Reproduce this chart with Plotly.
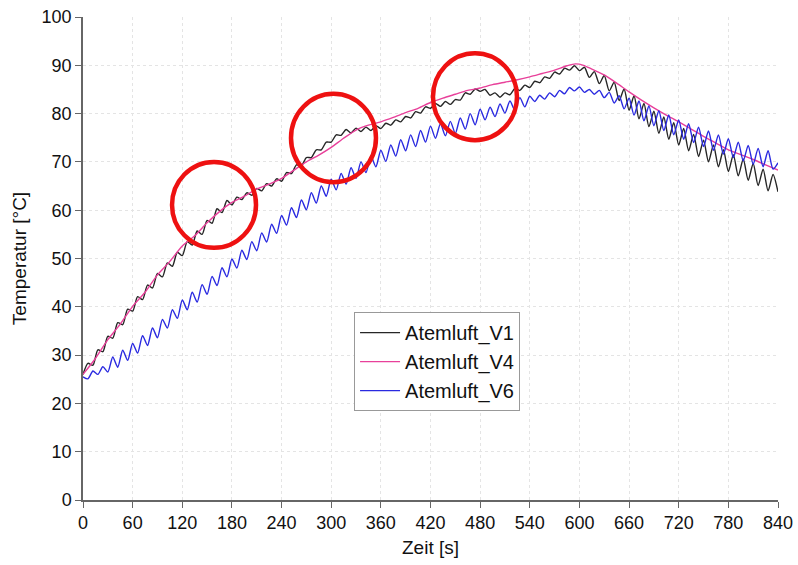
import plotly.graph_objects as go

# ---- data ----
t_v1 = list(range(0, 841, 6))
atemluft_v1 = [
    26.0, 28.3, 27.9, 31.1, 30.7, 33.9, 33.5, 36.7, 36.3, 39.5,
    39.1, 42.1, 41.5, 44.5, 43.9, 46.9, 46.2, 49.1, 48.4, 51.3,
    50.6, 53.5, 52.8, 55.7, 55.0, 57.9, 57.3, 60.3, 59.5, 62.0,
    61.1, 62.7, 62.2, 63.6, 63.1, 64.5, 64.0, 65.5, 65.0, 66.5,
    66.0, 67.8, 67.6, 69.4, 69.2, 70.9, 70.9, 72.5, 72.5, 74.1,
    74.1, 75.6, 75.5, 76.7, 76.0, 77.0, 76.3, 77.2, 76.5, 77.5,
    76.9, 78.0, 77.6, 78.7, 78.3, 79.4, 79.1, 80.4, 80.1, 81.4,
    81.1, 82.1, 81.5, 82.5, 81.9, 82.9, 82.8, 84.3, 84.0, 85.1,
    84.6, 85.0, 83.8, 84.3, 83.4, 84.3, 83.9, 85.2, 84.8, 85.9,
    85.4, 86.7, 86.4, 87.6, 87.3, 88.6, 88.2, 89.4, 89.0, 89.9,
    88.9, 89.6, 87.5, 88.7, 86.2, 87.9, 84.7, 86.5, 82.7, 85.1,
    80.7, 83.7, 78.9, 82.1, 77.3, 80.5, 75.9, 79.3, 74.7, 78.1,
    73.5, 76.9, 72.3, 75.7, 71.1, 74.5, 70.0, 73.5, 69.0, 72.5,
    68.0, 71.5, 67.1, 70.6, 66.2, 69.7, 65.1, 68.5, 64.0, 67.4,
    63.8,
]

t_v4 = [0, 15, 30, 45, 60, 75, 90, 105, 120, 135, 150, 165, 180, 195, 210,
        225, 240, 255, 270, 285, 300, 315, 330, 345, 360, 375, 390, 405,
        420, 435, 450, 465, 480, 495, 510, 525, 540, 555, 570, 585, 595,
        605, 615, 630, 645, 660, 675, 690, 705, 720, 735, 750, 765, 780,
        795, 810, 825, 840]
atemluft_v4 = [26.0, 29.3, 33.2, 36.4, 40.1, 43.0, 46.6, 49.4, 52.6, 54.7,
               57.4, 59.7, 61.6, 62.9, 64.4, 65.4, 66.6, 68.3, 70.0, 71.4,
               73.0, 74.9, 76.6, 77.6, 78.3, 79.2, 80.2, 81.1, 82.3, 83.2,
               84.0, 84.8, 85.3, 86.0, 86.5, 87.0, 87.6, 88.3, 89.0, 89.9,
               90.3, 90.0, 89.2, 88.0, 86.3, 84.5, 82.8, 81.2, 79.7, 78.3,
               76.8, 75.3, 73.9, 72.5, 71.5, 70.5, 69.4, 68.3]

t_v6 = list(range(0, 841, 6))
atemluft_v6 = [
    25.5, 25.1, 26.7, 26.0, 27.6, 26.5, 29.6, 27.5, 31.0, 28.9,
    32.4, 30.4, 34.0, 32.0, 35.6, 33.6, 37.4, 35.6, 39.4, 37.6,
    41.4, 39.4, 43.0, 41.0, 44.6, 42.6, 46.3, 44.4, 48.1, 46.2,
    49.9, 48.0, 51.7, 49.8, 53.5, 51.6, 55.3, 53.4, 57.1, 55.2,
    58.9, 56.9, 60.5, 58.5, 62.1, 60.1, 63.6, 61.5, 65.0, 62.9,
    66.4, 64.2, 67.6, 65.4, 68.8, 66.6, 70.0, 67.8, 71.2, 69.0,
    72.4, 70.1, 73.5, 71.2, 74.6, 72.3, 75.6, 73.2, 76.5, 74.1,
    77.4, 74.9, 77.9, 75.4, 78.4, 75.9, 79.1, 76.8, 80.0, 77.7,
    80.9, 78.7, 81.3, 79.4, 82.0, 80.1, 82.6, 80.7, 83.3, 81.4,
    83.6, 82.5, 83.8, 83.0, 84.3, 83.5, 84.8, 84.1, 85.4, 84.7,
    85.5, 84.4, 85.0, 84.0, 84.8, 83.3, 84.4, 82.2, 83.7, 81.0,
    83.2, 79.7, 82.6, 78.5, 81.6, 77.5, 80.6, 76.5, 79.7, 75.6,
    78.7, 74.7, 77.9, 74.0, 77.2, 73.2, 76.4, 72.4, 75.6, 71.6,
    74.8, 70.9, 74.1, 70.2, 73.4, 69.5, 72.8, 69.0, 72.3, 68.5,
    69.8,
]

x_ticks = list(range(0, 841, 60))
y_ticks = list(range(0, 101, 10))

FONT = "Liberation Sans, Arial, sans-serif"

fig = go.Figure()
fig.add_trace(go.Scatter(x=t_v1, y=atemluft_v1, mode="lines", name="Atemluft_V1",
                         line=dict(color="#262626", width=1.4, shape="spline", smoothing=0.7)))
fig.add_trace(go.Scatter(x=t_v4, y=atemluft_v4, mode="lines", name="Atemluft_V4",
                         line=dict(color="#e8409a", width=1.4, shape="spline", smoothing=0.7)))
fig.add_trace(go.Scatter(x=t_v6, y=atemluft_v6, mode="lines", name="Atemluft_V6",
                         line=dict(color="#2a2ae0", width=1.4, shape="spline", smoothing=0.7)))

# red highlight circles
circles = [(107.6, 52.2, 209.1, 70.0), (251.4, 65.8, 354.1, 84.1), (423.0, 74.5, 524.5, 92.5)]
for x0, y0, x1, y1 in circles:
    fig.add_shape(type="circle", xref="x", yref="y", x0=x0, y0=y0, x1=x1, y1=y1,
                  line=dict(color="#ee1111", width=4.5), layer="above")

fig.update_layout(
    width=798, height=565,
    margin=dict(l=83, r=20, t=17, b=65),
    paper_bgcolor="white", plot_bgcolor="white",
    font=dict(family=FONT, size=18, color="#111111"),
    showlegend=True,
    legend=dict(x=0.39, y=0.389, xanchor="left", yanchor="top",
                bgcolor="white", bordercolor="#999999", borderwidth=1,
                font=dict(size=20, family=FONT, color="#111111"),
                itemwidth=40, tracegroupgap=0),
)
fig.update_xaxes(
    range=[0, 840], tickvals=x_ticks, ticktext=[str(v) for v in x_ticks],
    showline=True, linecolor="#666666", linewidth=1.5,
    ticks="outside", ticklen=6, tickcolor="#666666",
    showgrid=True, gridcolor="#e4e4e4", griddash="dot", gridwidth=1,
    zeroline=False, automargin=False,
    title=dict(text="Zeit [s]", font=dict(size=19, family=FONT), standoff=8),
    tickfont=dict(size=18, family=FONT),
)
fig.update_yaxes(
    range=[0, 100], tickvals=y_ticks, ticktext=[str(v) for v in y_ticks],
    showline=True, linecolor="#666666", linewidth=1.5,
    ticks="outside", ticklen=6, tickcolor="#666666",
    showgrid=True, gridcolor="#e4e4e4", griddash="dot", gridwidth=1,
    zeroline=False, automargin=False,
    title=dict(text="Temperatur [°C]", font=dict(size=19, family=FONT), standoff=10),
    tickfont=dict(size=18, family=FONT),
)

fig.write_html("out.html")
